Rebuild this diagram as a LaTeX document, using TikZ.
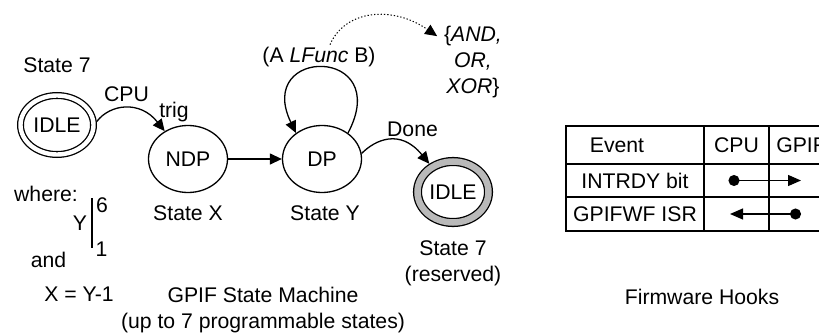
\documentclass[tikz,border=0pt]{standalone}
\usepackage{fontspec}
\setmainfont{Liberation Sans}
\usetikzlibrary{arrows.meta,positioning,shapes.geometric}
\tikzset{
  st/.style={ellipse, draw, line width=1.3pt, inner sep=0pt, minimum width=79pt, minimum height=67pt},
  idl/.style={st, double, double distance=4.4pt, outer sep=3.5pt, minimum width=73pt, minimum height=59pt},
  rsv/.style={st, double=gray!55, double distance=6.5pt, outer sep=4.5pt, minimum width=71pt, minimum height=61pt},
  arr/.style={-{Triangle[length=12pt,width=11pt]}, line width=1.3pt},
  hook/.style={{Circle[length=11pt]}-{Triangle[length=13pt,width=11pt]}, line width=1.3pt},
  lbl/.style={inner sep=0pt, outer sep=0pt},
  cell/.style={draw, line width=1.3pt, inner sep=0pt, outer sep=0pt},
}
\begin{document}
\begin{tikzpicture}[x=1pt, y=-1pt, font=\fontsize{21.2}{26}\selectfont]
  \path[use as bounding box] (0,0) rectangle (819,334);
  \clip (0,0) rectangle (819,334);
  % state machine
  \node[idl] (idle1) at (57,125) {IDLE};
  \node[st] (ndp) at (188,159) {NDP};
  \node[st] (dp) at (322,159) {DP};
  \node[rsv] (idle2) at (453,192) {IDLE};
  \node[lbl, above=19pt of idle1] (s7a) {State 7};
  \node[lbl, below=13pt of ndp] (sx) {State X};
  \node[lbl, below=13pt of dp, xshift=3pt] (sy) {State Y};
  \node[lbl, below=14pt of idle2, align=center] (s7b) {State 7\\(reserved)};
  \node[lbl, anchor=base] (cpu) at (126.5,102) {CPU};
  \node[lbl, anchor=base] (trig) at (174,118) {trig};
  \node[lbl, anchor=base] (lfunc) at (319,63) {(A \textit{LFunc} B)};
  \node[lbl, anchor=base, align=center] (ops) at (473,94) {\{\textit{AND,}\\\textit{OR,}\\\textit{XOR}\}};
  \node[lbl, anchor=base] (done) at (412.5,137) {Done};
  \draw[arr] (idle1.5) .. controls (110,104) and (140,100) .. (ndp.130);
  \draw[arr] (ndp) -- (dp);
  \draw[arr] (dp.45) .. controls (394,46) and (254,46) .. (dp.135);
  \draw[arr] (dp.8) .. controls (375,140) and (400,128) .. (idle2.130);
  \draw[arr, dotted, line width=1pt] ([xshift=11pt,yshift=3pt]lfunc.north) .. controls (345,10) and (392,5) .. ([xshift=-7pt,yshift=-9.5pt]ops.north west);
  % range of Y
  \node[lbl, anchor=base] (where) at (46,201) {where:};
  \node[lbl, anchor=base] (yv) at (80,230) {Y};
  \node[lbl, anchor=base] (hi) at (102,212) {6};
  \node[lbl, anchor=base] (lo) at (101.5,256) {1};
  \node[lbl, anchor=base] (and) at (48.5,267) {and};
  \node[lbl, anchor=base] (xeq) at (79,301) {X = Y-1};
  \draw[line width=1.3pt] (92,198) -- (92,248);
  \node[lbl, anchor=base, align=center] (gsm) at (263,328) {GPIF State Machine\\(up to 7 programmable states)};
  % firmware hooks table
  \node[cell, anchor=north west, minimum width=138pt, minimum height=38pt, label={[lbl, xshift=-18pt]center:Event}] (ev) at (566,126) {};
  \node[cell, right=0pt of ev, minimum width=65pt, minimum height=38pt] (cpuh) {CPU};
  \node[cell, right=0pt of cpuh, minimum width=64pt, minimum height=38pt] (gph) {GPIF};
  \node[cell, below=0pt of ev, minimum width=138pt, minimum height=33pt] (intr) {INTRDY bit};
  \node[cell, right=0pt of intr, minimum width=65pt, minimum height=33pt] (intrc) {};
  \node[cell, right=0pt of intrc, minimum width=64pt, minimum height=33pt] (intrg) {};
  \node[cell, below=0pt of intr, minimum width=138pt, minimum height=34pt] (isr) {GPIFWF ISR};
  \node[cell, right=0pt of isr, minimum width=65pt, minimum height=34pt] (isrc) {};
  \node[cell, right=0pt of isrc, minimum width=64pt, minimum height=34pt] (isrg) {};
  \draw[hook] ([xshift=-8pt]intrc.center) -- (intrg.center);
  \draw[hook] (isrg.center) -- ([xshift=-6.5pt]isrc.center);
  \node[lbl, anchor=base] (fwh) at (702,304) {Firmware Hooks};
\end{tikzpicture}
\end{document}
